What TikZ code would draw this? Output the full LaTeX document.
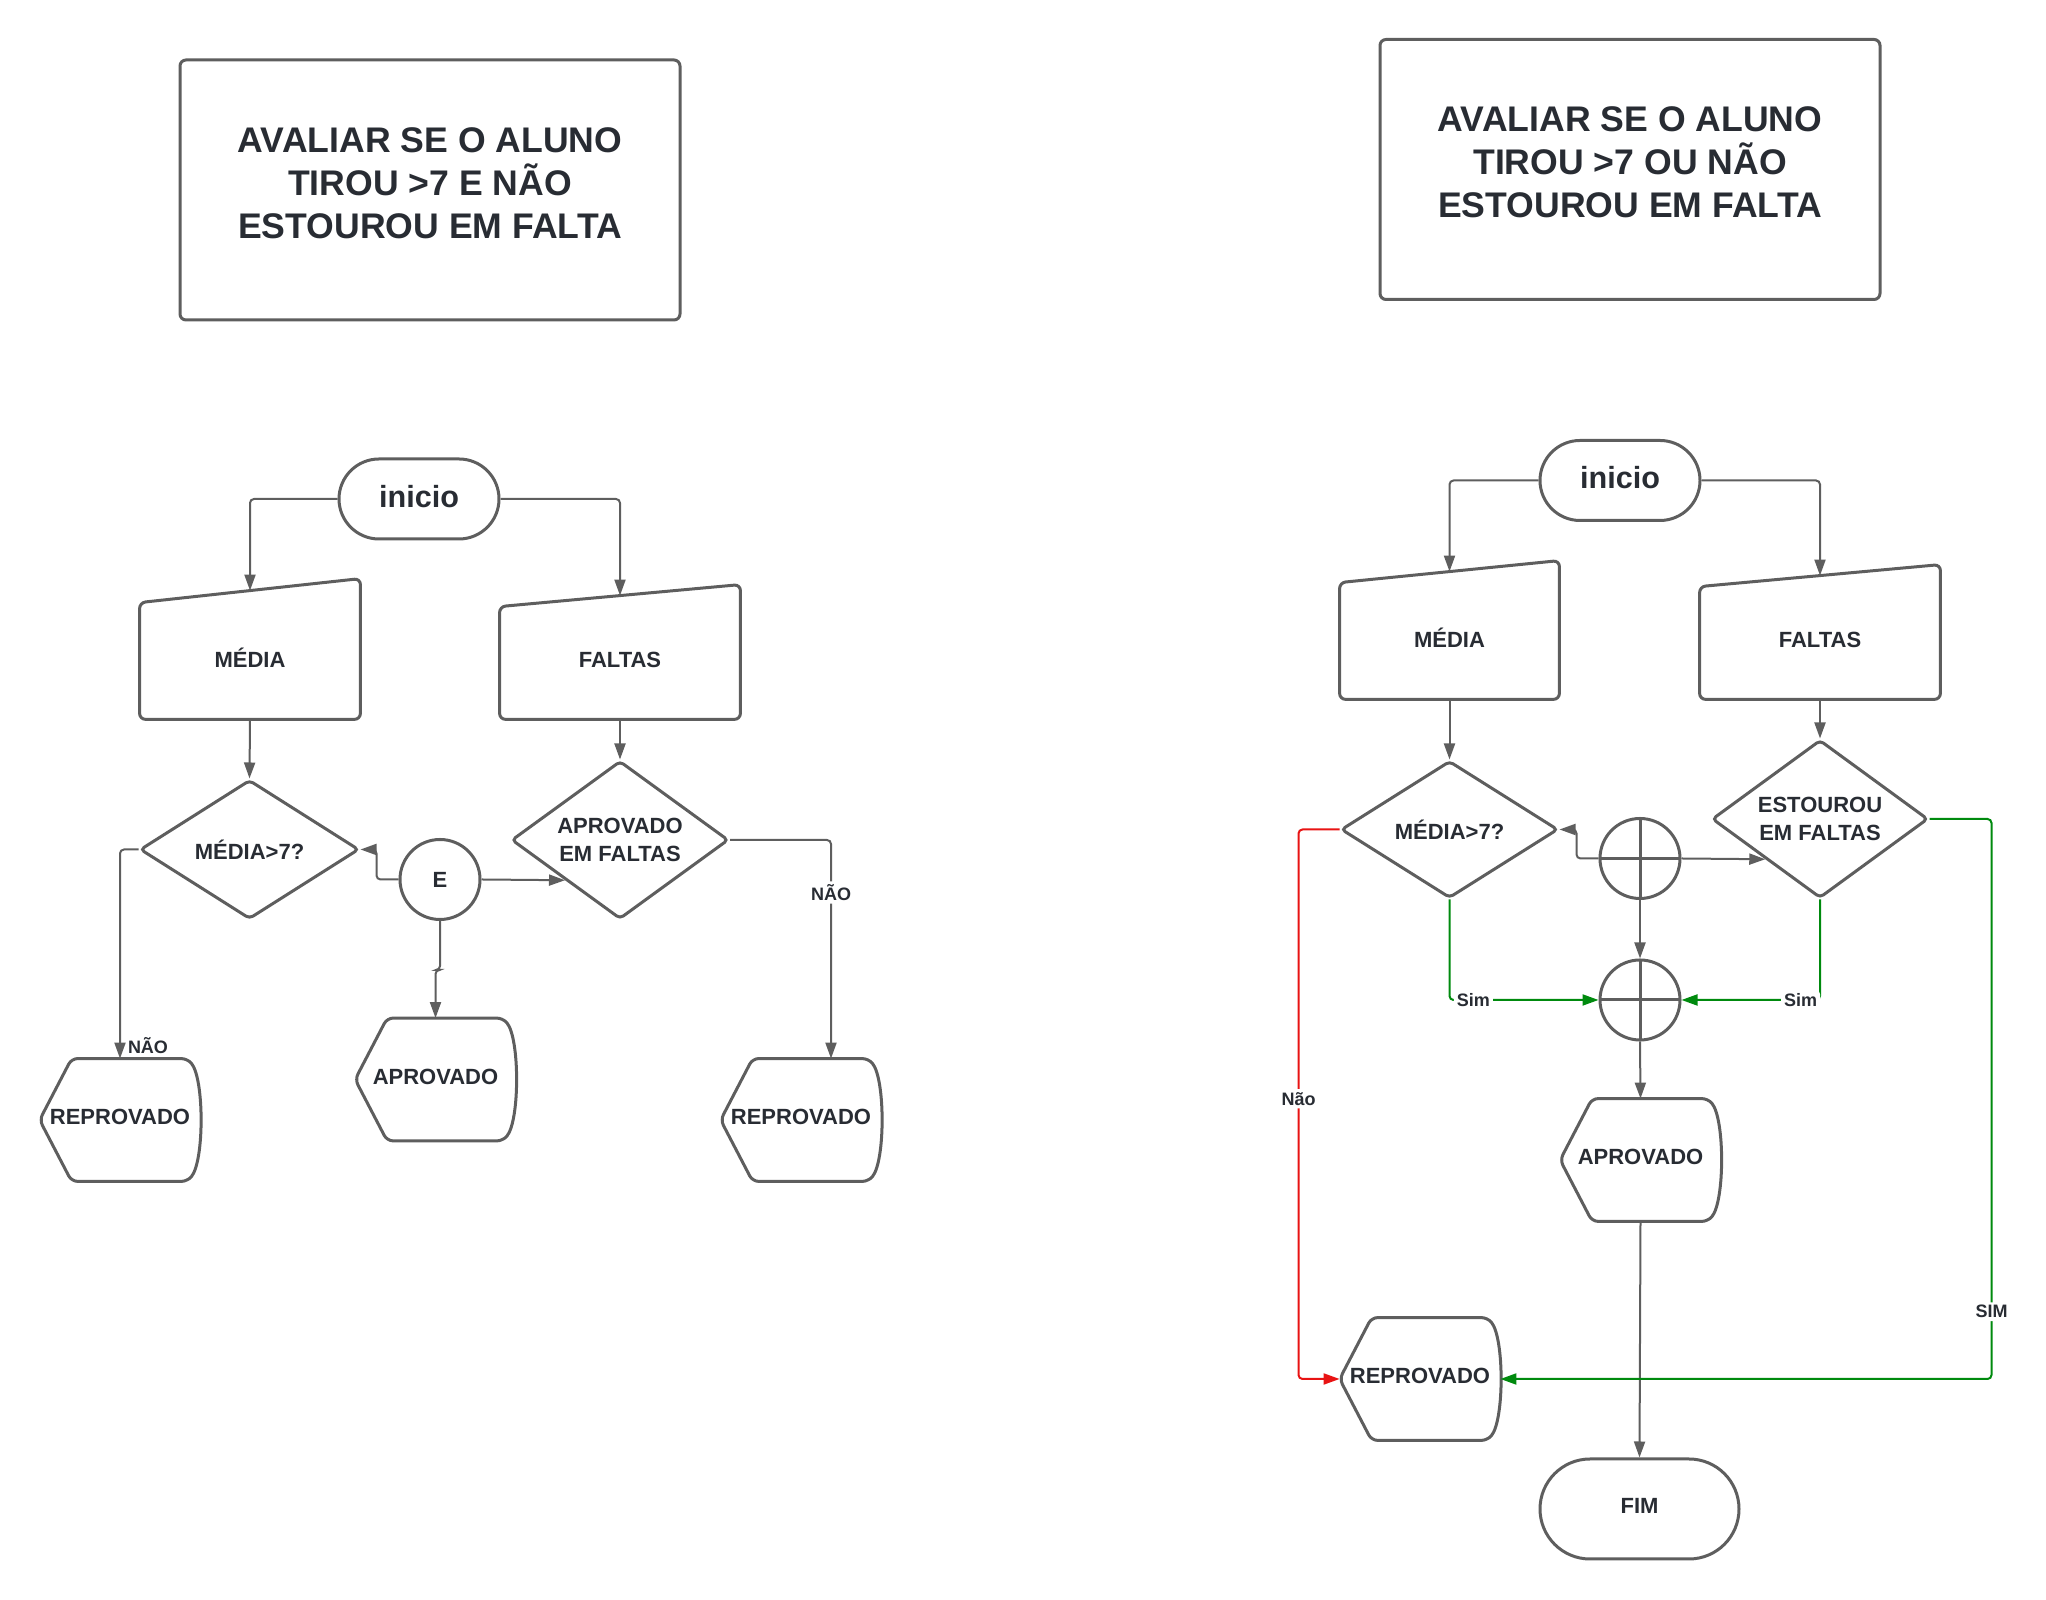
\documentclass[tikz,border=0pt]{standalone}
\usepackage{fontspec}
\setmainfont{Liberation Sans}
\usetikzlibrary{shapes.geometric, arrows.meta}

\definecolor{linegray}{HTML}{5E5E5E}
\definecolor{textdark}{HTML}{282C33}
\definecolor{simgreen}{HTML}{008A0E}
\definecolor{naored}{HTML}{E81313}

\tikzset{
    every node/.style={text=textdark, font=\bfseries\fontsize{11}{13.7}\selectfont},
    outline/.style={draw=linegray, line width=1.5pt, rounded corners=3pt},
    titlebox/.style={outline, minimum width=250pt, minimum height=130pt, align=center, text depth=7pt,
        font=\bfseries\fontsize{17.8}{21.5}\selectfont},
    startend/.style={outline, rounded corners=20pt, minimum width=80pt, minimum height=40pt, text depth=3pt},
    inbox/.style={inner sep=0pt, text depth=3pt},
    dispbox/.style={inner sep=0pt, minimum width=80pt, minimum height=61pt, text depth=3pt},
    decision/.style={diamond, draw=linegray, line width=1.5pt, rounded corners=2pt, align=center, inner sep=1pt},
    joinE/.style={circle, draw=linegray, line width=1.5pt, minimum size=40pt, inner sep=0pt},
    joinX/.style={joinE, path picture={
        \draw[linegray, line width=1.5pt] (path picture bounding box.north) -- (path picture bounding box.south)
            (path picture bounding box.west) -- (path picture bounding box.east);}},
    flow/.style={draw=linegray, line width=1pt, rounded corners=2pt, -{Triangle[length=8pt, width=5.5pt]}},
    simflow/.style={flow, draw=simgreen},
    naoflow/.style={flow, draw=naored},
    lbl/.style={font=\bfseries\fontsize{9}{11}\selectfont, fill=white, inner sep=1.5pt},
}

\begin{document}
\begin{tikzpicture}[x=50pt, y=50pt]
    \useasboundingbox (0,0) rectangle (20.46,16);

    % E (left)
    \node[titlebox] (titleA) at (4.30,14.10) {AVALIAR SE O ALUNO\\TIROU >7 E NÃO\\ESTOUROU EM FALTA};
    \node[startend, font=\bfseries\fontsize{15.3}{18}\selectfont] (inicioA) at (4.19,11.01) {inicio};
    \node[inbox, minimum width=110pt, minimum height=58pt] (mediaA) at (2.50,9.39) {MÉDIA};
    \node[inbox, minimum width=120pt, minimum height=56pt] (faltasA) at (6.20,9.37) {FALTAS};
    \node[decision, aspect=1.57, minimum width=109.5pt, minimum height=69.5pt] (diaA1) at (2.495,7.505) {MÉDIA>7?};
    \node[decision, aspect=1.37, minimum width=108.5pt, minimum height=79pt] (diaA2) at (6.20,7.60) {APROVADO\\EM FALTAS};
    \node[joinE] (eA) at (4.40,7.205) {E};
    \node[dispbox] (aprovA) at (4.355,5.205) {APROVADO};
    \node[dispbox] (reprovA1) at (1.20,4.80) {REPROVADO};
    \node[dispbox] (reprovA2) at (8.01,4.80) {REPROVADO};

    % OU (right)
    \node[titlebox] (titleB) at (16.30,14.305) {AVALIAR SE O ALUNO\\TIROU >7 OU NÃO\\ESTOUROU EM FALTA};
    \node[startend, font=\bfseries\fontsize{15.3}{18}\selectfont] (inicioB) at (16.20,11.195) {inicio};
    \node[inbox, minimum width=109.5pt, minimum height=58pt] (mediaB) at (14.495,9.59) {MÉDIA};
    \node[inbox, minimum width=120pt, minimum height=56pt] (faltasB) at (18.20,9.57) {FALTAS};
    \node[decision, aspect=1.57, minimum width=108.5pt, minimum height=68.5pt] (diaB1) at (14.495,7.705) {MÉDIA>7?};
    \node[decision, aspect=1.37, minimum width=108pt, minimum height=79pt] (diaB2) at (18.20,7.81) {ESTOUROU\\EM FALTAS};
    \node[joinX] (juncB1) at (16.40,7.415) {};
    \node[joinX] (juncB2) at (16.40,6.00) {};
    \node[dispbox] (aprovB) at (16.405,4.40) {APROVADO};
    \node[dispbox] (reprovB) at (14.20,2.21) {REPROVADO};
    \node[startend, rounded corners=25pt, minimum width=99.5pt, minimum height=50pt] (fimB) at (16.395,0.91) {FIM};

    % manual input and display outlines
    \foreach \n/\r in {mediaA/12pt, faltasA/11pt, mediaB/11pt, faltasB/11pt}
        \draw[outline] (\n.south west) -- (\n.north west) -- ([yshift=\r]\n.north east) -- (\n.south east) -- cycle;
    \foreach \n in {aprovA, reprovA1, reprovA2, aprovB, reprovB}
        \draw[outline] (\n.west) -- ([xshift=16pt]\n.north west) -- ([xshift=-6.5pt]\n.north east)
            .. controls ([xshift=2pt, yshift=-10pt]\n.north east) and ([xshift=2pt, yshift=10pt]\n.south east) ..
            ([xshift=-6.5pt]\n.south east) -- ([xshift=16pt]\n.south west) -- cycle;

    % connectors (left)
    \draw[flow] (inicioA.west) -| ([yshift=6pt]mediaA.north);
    \draw[flow] (inicioA.east) -| ([yshift=5.5pt]faltasA.north);
    \draw[flow] (mediaA.south) -- (diaA1.north);
    \draw[flow] (faltasA.south) -- (diaA2.north);
    \draw[flow] (eA.west) -- ++(-11pt,0) |- (diaA1.east);
    \draw[flow] (eA.east) -- (diaA2.south west);
    \draw[flow] (eA.south) -- ++(0,-24.5pt) -| (aprovA.north);
    \draw[flow] (diaA1.west) -| node[lbl, pos=0.97, right=2pt, fill=none] {NÃO} (reprovA1.north);
    \draw[flow] (diaA2.east) -| node[lbl, pos=0.62] {NÃO} ([xshift=15pt]reprovA2.north);

    % connectors (right)
    \draw[flow] (inicioB.west) -| ([yshift=5.5pt]mediaB.north);
    \draw[flow] (inicioB.east) -| ([yshift=5.5pt]faltasB.north);
    \draw[flow] (mediaB.south) -- (diaB1.north);
    \draw[flow] (faltasB.south) -- (diaB2.north);
    \draw[flow] (juncB1.west) -- ++(-11pt,0) |- (diaB1.east);
    \draw[flow] (juncB1.east) -- (diaB2.south west);
    \draw[flow] (juncB1.south) -- (juncB2.north);
    \draw[simflow] (diaB1.south) |- node[lbl, pos=0.58] {Sim} (juncB2.west);
    \draw[simflow] (diaB2.south) |- node[lbl, pos=0.57] {Sim} (juncB2.east);
    \draw[flow] (juncB2.south) -- (aprovB.north);
    \draw[flow] (aprovB.south) -- (fimB.north);
    \draw[naoflow] (diaB1.west) -- ++(-20.5pt,0) |- node[lbl, pos=0.245] {Não} (reprovB.west);
    \draw[simflow] (diaB2.east) -- ++(31pt,0) |- node[lbl, pos=0.44] {SIM} (reprovB.east);
\end{tikzpicture}
\end{document}
